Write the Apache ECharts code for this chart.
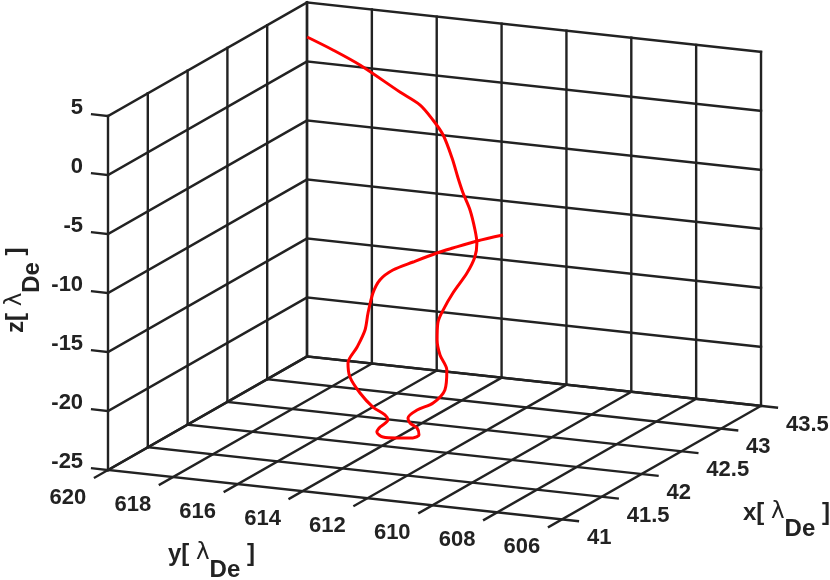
<!DOCTYPE html>
<html>
<head>
<meta charset="utf-8">
<script src="https://cdn.jsdelivr.net/npm/echarts@6/dist/echarts.min.js"></script>
<style>
html,body{margin:0;padding:0;background:#fff;}
#chart{width:830px;height:580px;}
</style>
</head>
<body>
<div id="chart"></div>
<script>
// ---------- data ----------
const xTicks = [41, 41.5, 42, 42.5, 43, 43.5];
const yTicks = [620, 618, 616, 614, 612, 610, 608, 606];
const zTicks = [-25, -20, -15, -10, -5, 0, 5];

const curveX = [43.20, 43.10, 43.00, 42.85, 42.75, 42.65, 42.55, 42.45, 42.35, 42.25,
                42.15, 42.05, 42.00, 41.95, 41.90, 41.85, 41.80, 41.75, 41.70, 41.70,
                41.70, 41.70, 41.65, 41.60, 41.55, 41.55, 41.55, 41.55, 41.55, 41.55,
                41.55, 41.55, 41.55, 41.55, 41.55, 41.55, 41.55, 41.55, 41.55, 41.60,
                41.65, 41.70, 41.75, 41.80, 41.85, 41.90, 41.95, 42.00, 42.05, 42.10];
const curveY = [619.26, 618.22, 617.14, 615.54, 614.67, 614.03, 613.47, 612.95, 612.52, 612.12,
                611.66, 611.26, 611.08, 611.02, 611.14, 611.45, 611.63, 611.67, 611.57, 611.48,
                611.27, 611.33, 611.57, 611.94, 612.10, 612.04, 611.82, 611.76, 611.95, 612.44,
                612.87, 613.06, 612.96, 612.72, 612.81, 613.18, 613.58, 613.89, 613.95, 613.79,
                613.67, 613.70, 613.67, 613.58, 613.30, 612.80, 612.19, 611.82, 611.20, 610.52];
const curveZ = [3.45, 3.05, 2.48, 1.25, 0.79, 0.10, -0.62, -2.03, -3.21, -3.98,
                -4.90, -6.09, -6.94, -7.92, -9.12, -10.71, -12.02, -12.93, -14.16, -15.40,
                -16.61, -18.32, -19.30, -19.81, -20.35, -20.75, -21.11, -21.68, -21.99, -22.14,
                -22.19, -21.82, -21.37, -20.70, -20.30, -19.74, -18.67, -17.41, -16.24, -15.03,
                -13.74, -12.50, -10.99, -10.05, -9.32, -8.68, -7.93, -7.59, -7.00, -6.48];

// ---------- view (orthographic projection of the 3-D box) ----------
const xMin = Math.min(...xTicks), xMax = Math.max(...xTicks);
const yMin = Math.min(...yTicks), yMax = Math.max(...yTicks);
const zMin = Math.min(...zTicks), zMax = Math.max(...zTicks);
const EX = [79.6, 45.4], EY = [-32.43, 3.53], EZ = [0, 11.8];
function proj(x, y, z) {
  const dx = x - xMin, dy = y - yMax, dz = z - zMin;
  return [EX[0] * dx + EY[0] * dy + EZ[0] * dz, EX[1] * dx + EY[1] * dy + EZ[1] * dz];
}
const TX = 0.164, TY = 0.49; // tick lengths in data units
const INK = '#222222';
const TICK_FONT = 'bold 22px "Liberation Sans", Arial, sans-serif';

// grid segments built from ticks
const segs = [];
xTicks.forEach(x => segs.push([x, yMax, zMin, x, yMax, zMax]));          // left wall verticals
zTicks.forEach(z => segs.push([xMin, yMax, z, xMax, yMax, z]));          // left wall horizontals
yTicks.forEach(y => segs.push([xMax, y, zMin, xMax, y, zMax]));          // back wall verticals
zTicks.forEach(z => segs.push([xMax, yMax, z, xMax, yMin, z]));          // back wall horizontals
xTicks.forEach(x => segs.push([x, yMax, zMin, x, yMin - TY, zMin]));     // floor + x ticks
yTicks.forEach(y => segs.push([xMin - TX, y, zMin, xMax, y, zMin]));     // floor + y ticks
zTicks.forEach(z => segs.push([xMin, yMax, z, xMin, yMax + TY, z]));     // z ticks
const segData = segs.map(s => {
  const p = proj(s[0], s[1], s[2]), q = proj(s[3], s[4], s[5]);
  return [p[0], p[1], q[0], q[1]];
});

const curveData = curveX.map((x, i) => proj(x, curveY[i], curveZ[i]));

function labelSeries(ticks, pointFn, dx, dy, align) {
  const pts = ticks.map(t => { const p = pointFn(t); return [p[0], p[1], t]; });
  return {
    type: 'custom',
    coordinateSystem: 'cartesian2d',
    data: pts,
    encode: { x: 0, y: 1 },
    silent: true,
    z: 3,
    renderItem: function (params, api) {
      const c = api.coord([api.value(0), api.value(1)]);
      return {
        type: 'text',
        x: c[0] + dx,
        y: c[1] + dy,
        style: {
          text: String(api.value(2)),
          font: TICK_FONT,
          fill: INK,
          align: align,
          verticalAlign: 'middle'
        }
      };
    }
  };
}

const rich = {
  m: { fontSize: 24, fontWeight: 'bold', fontFamily: '"Liberation Sans", Arial, sans-serif', lineHeight: 24, verticalAlign: 'top', fill: INK, color: INK },
  l: { fontSize: 23, fontWeight: 'normal', fontFamily: '"DejaVu Sans", sans-serif', lineHeight: 24, verticalAlign: 'top', fill: INK, color: INK },
  s: { fontSize: 24, fontWeight: 'bold', fontFamily: '"Liberation Sans", Arial, sans-serif', lineHeight: 56, verticalAlign: 'middle', fill: INK, color: INK }
};
function title(letter) { return '{m|' + letter + '[ }{l|λ}{s|De}{m| ]}'; }

const chart = echarts.init(document.getElementById('chart'), null, { renderer: 'canvas' });
chart.setOption({
  animation: false,
  backgroundColor: '#ffffff',
  grid: { left: 0, right: 0, top: 0, bottom: 0 },
  xAxis: { type: 'value', min: -108, max: 722, show: false },
  yAxis: { type: 'value', min: -110, max: 470, show: false },
  series: [
    {
      type: 'custom',
      coordinateSystem: 'cartesian2d',
      data: segData,
      encode: { x: [0, 2], y: [1, 3] },
      silent: true,
      z: 1,
      renderItem: function (params, api) {
        const a = api.coord([api.value(0), api.value(1)]);
        const b = api.coord([api.value(2), api.value(3)]);
        return {
          type: 'line',
          shape: { x1: a[0], y1: a[1], x2: b[0], y2: b[1] },
          style: { stroke: INK, lineWidth: 2.4, lineCap: 'square' }
        };
      }
    },
    {
      type: 'line',
      data: curveData,
      showSymbol: false,
      smooth: 0.3,
      z: 5,
      lineStyle: { color: '#ff0000', width: 3 },
      silent: true
    },
    labelSeries(zTicks, z => proj(xMin, yMax + TY, z), -9, -6, 'right'),
    labelSeries(yTicks, y => proj(xMin - TX, y, zMin), -27, 20, 'center'),
    labelSeries(xTicks, x => proj(x, yMin - TY, zMin), 9, 17, 'left')
  ],
  graphic: [
    { type: 'text', x: 743, y: 501, silent: true,
      style: { text: title('x'), rich: rich, align: 'left', verticalAlign: 'top', fill: INK } },
    { type: 'text', x: 168, y: 542, silent: true,
      style: { text: title('y'), rich: rich, align: 'left', verticalAlign: 'top', fill: INK } },
    { type: 'text', x: 4, y: 333, rotation: Math.PI / 2, silent: true,
      style: { text: title('z'), rich: rich, align: 'left', verticalAlign: 'top', fill: INK } }
  ]
});
</script>
</body>
</html>
